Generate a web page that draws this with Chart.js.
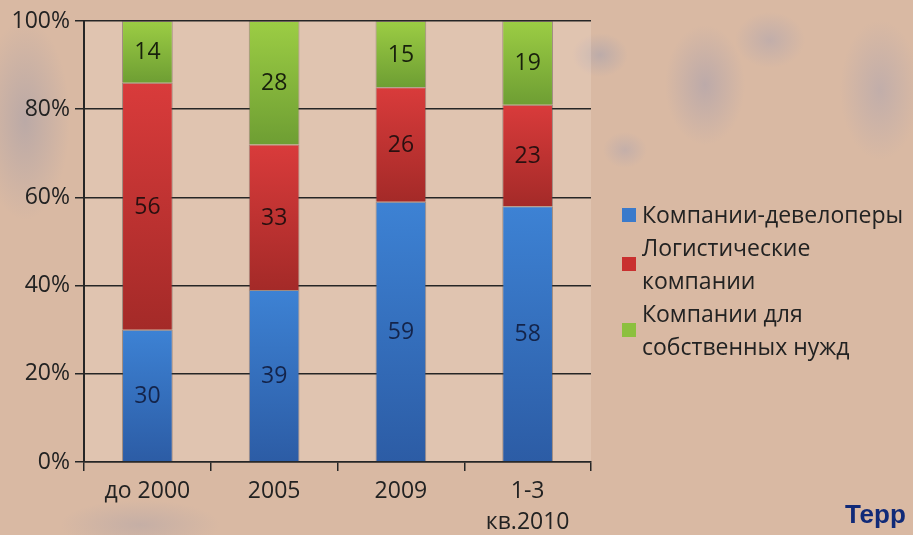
<!DOCTYPE html>
<html>
<head>
<meta charset="utf-8">
<title>Структура спроса на складские площади</title>
<script src="https://cdn.jsdelivr.net/npm/chart.js@4.4.0/dist/chart.umd.min.js"></script>
<style>
	body{
		margin: 0;
		width: 913px;
		height: 535px;
		overflow: hidden;
		font-family: "Open Sans", sans-serif;
		background:
			radial-gradient(ellipse 45px 100px at 25px 120px, rgba(150,150,170,0.45), transparent),
			radial-gradient(ellipse 28px 22px at 600px 55px, rgba(160,158,175,0.5), transparent),
			radial-gradient(ellipse 40px 60px at 705px 85px, rgba(160,155,175,0.5), transparent),
			radial-gradient(ellipse 35px 28px at 770px 40px, rgba(165,160,178,0.45), transparent),
			radial-gradient(ellipse 40px 70px at 880px 90px, rgba(165,160,178,0.45), transparent),
			radial-gradient(ellipse 22px 18px at 625px 150px, rgba(165,160,178,0.4), transparent),
			radial-gradient(ellipse 80px 25px at 140px 525px, rgba(160,155,170,0.35), transparent),
			#d9b9a3;
	}
	#wrap{ position: relative; width: 913px; height: 535px; }
	#legend{
		position: absolute;
		left: 622px;
		top: 198px;
		font-size: 23px;
		line-height: 33px;
		color: #222;
		white-space: nowrap;
	}
	.item{ display: flex; align-items: center; }
	.box{ width: 14px; height: 14px; margin-right: 6px; flex: none; }
	.terr{
		position: absolute;
		left: 845px;
		top: 499px;
		font-family: "Liberation Sans", Arial, sans-serif;
		font-weight: bold;
		font-size: 26px;
		color: #102a78;
		white-space: nowrap;
	}
</style>
</head>
<body>
<div id="wrap">
	<canvas id="grafico" width="913" height="535"></canvas>
	<div id="legend">
		<div class="item"><span class="box" style="background:#3a7acb"></span><span>Компании-девелоперы</span></div>
		<div class="item"><span class="box" style="background:#c9302f"></span><span>Логистические<br>компании</span></div>
		<div class="item"><span class="box" style="background:#8cc03e"></span><span>Компании для<br>собственных нужд</span></div>
	</div>
	<div class="terr">Терр</div>
</div>

<script>
	// данные, % от общего объёма
	const categories = [['до 2000'], ['2005'], ['2009'], ['1-3', 'кв.2010']];
	const developers = [30, 39, 59, 58];   // Компании-девелоперы
	const logistics = [56, 33, 26, 23];    // Логистические компании
	const ownNeeds = [14, 28, 15, 19];     // Компании для собственных нужд
	const yTicks = [0, 20, 40, 60, 80, 100];

	// вертикальный градиент для каждого куска столбца
	function gradient(top, bottom) {
		return function (c) {
			const chart = c.chart;
			const y = chart.scales.y;
			if (!y || c.type !== 'data') return top;
			let base = 0;
			for (let k = 0; k < c.datasetIndex; k++) base += chart.data.datasets[k].data[c.dataIndex];
			const end = base + chart.data.datasets[c.datasetIndex].data[c.dataIndex];
			const y0 = y.getPixelForValue(end), y1 = y.getPixelForValue(base);
			if (!isFinite(y0) || !isFinite(y1)) return top;
			const g = chart.ctx.createLinearGradient(0, y0, 0, y1);
			g.addColorStop(0, top);
			g.addColorStop(1, bottom);
			return g;
		};
	}

	// подписи значений в центре каждого куска
	const valueLabels = {
		id: 'valueLabels',
		afterDatasetsDraw(chart) {
			const ctx = chart.ctx;
			ctx.save();
			ctx.font = '23px "Open Sans"';
			ctx.textAlign = 'center';
			ctx.textBaseline = 'middle';
			chart.data.datasets.forEach(function (ds, d) {
				chart.getDatasetMeta(d).data.forEach(function (bar, i) {
					const p = bar.getProps(['x', 'y', 'base'], true);
					ctx.fillStyle = ds.labelColor;
					ctx.fillText(ds.data[i], p.x, (p.y + p.base) / 2 + 1);
				});
			});
			ctx.restore();
		}
	};

	const plotTint = {
		id: 'plotTint',
		beforeDraw(chart) {
			const a = chart.chartArea;
			chart.ctx.save();
			chart.ctx.fillStyle = 'rgba(255,238,232,0.2)';
			chart.ctx.fillRect(a.left, a.top, a.right - a.left, a.bottom - a.top);
			chart.ctx.restore();
		}
	};

	const dark = '#262626';

	new Chart(document.getElementById('grafico'), {
		type: 'bar',
		data: {
			labels: categories,
			datasets: [
				{ label: 'Компании-девелоперы', data: developers, backgroundColor: gradient('#3d82d4', '#2c5ca5'), labelColor: '#14244a' },
				{ label: 'Логистические компании', data: logistics, backgroundColor: gradient('#d93b3b', '#a42a28'), labelColor: '#2a1010' },
				{ label: 'Компании для собственных нужд', data: ownNeeds, backgroundColor: gradient('#9ccd44', '#6e9e33'), labelColor: '#18200c' }
			]
		},
		options: {
			responsive: false,
			animation: false,
			layout: { padding: { top: 21, right: 322, bottom: 0, left: 0 } },
			datasets: {
				bar: {
					barPercentage: 0.4,
					categoryPercentage: 1,
					borderWidth: 1,
					borderColor: 'rgba(80,70,70,0.45)'
				}
			},
			plugins: {
				legend: { display: false },
				tooltip: { enabled: false }
			},
			scales: {
				x: {
					stacked: true,
					afterFit: function (s) { s.height = 73; },
					grid: { drawOnChartArea: false, drawTicks: true, tickLength: 9, color: dark, lineWidth: 1.5 },
					border: { color: dark, width: 1.5 },
					ticks: { color: '#222', padding: 5, font: { family: 'Open Sans', size: 23, lineHeight: 1.35 } }
				},
				y: {
					stacked: true,
					min: 0,
					max: 100,
					afterFit: function (s) { s.width = 84; },
					afterBuildTicks: function (s) { s.ticks = yTicks.map(function (v) { return { value: v }; }); },
					grid: { color: dark, lineWidth: 1.5, tickLength: 9 },
					border: { color: dark, width: 2 },
					ticks: {
						color: '#222',
						padding: 5,
						font: { family: 'Open Sans', size: 23 },
						callback: function (v) { return v + '%'; }
					}
				}
			}
		},
		plugins: [plotTint, valueLabels]
	});
</script>
</body>
</html>
